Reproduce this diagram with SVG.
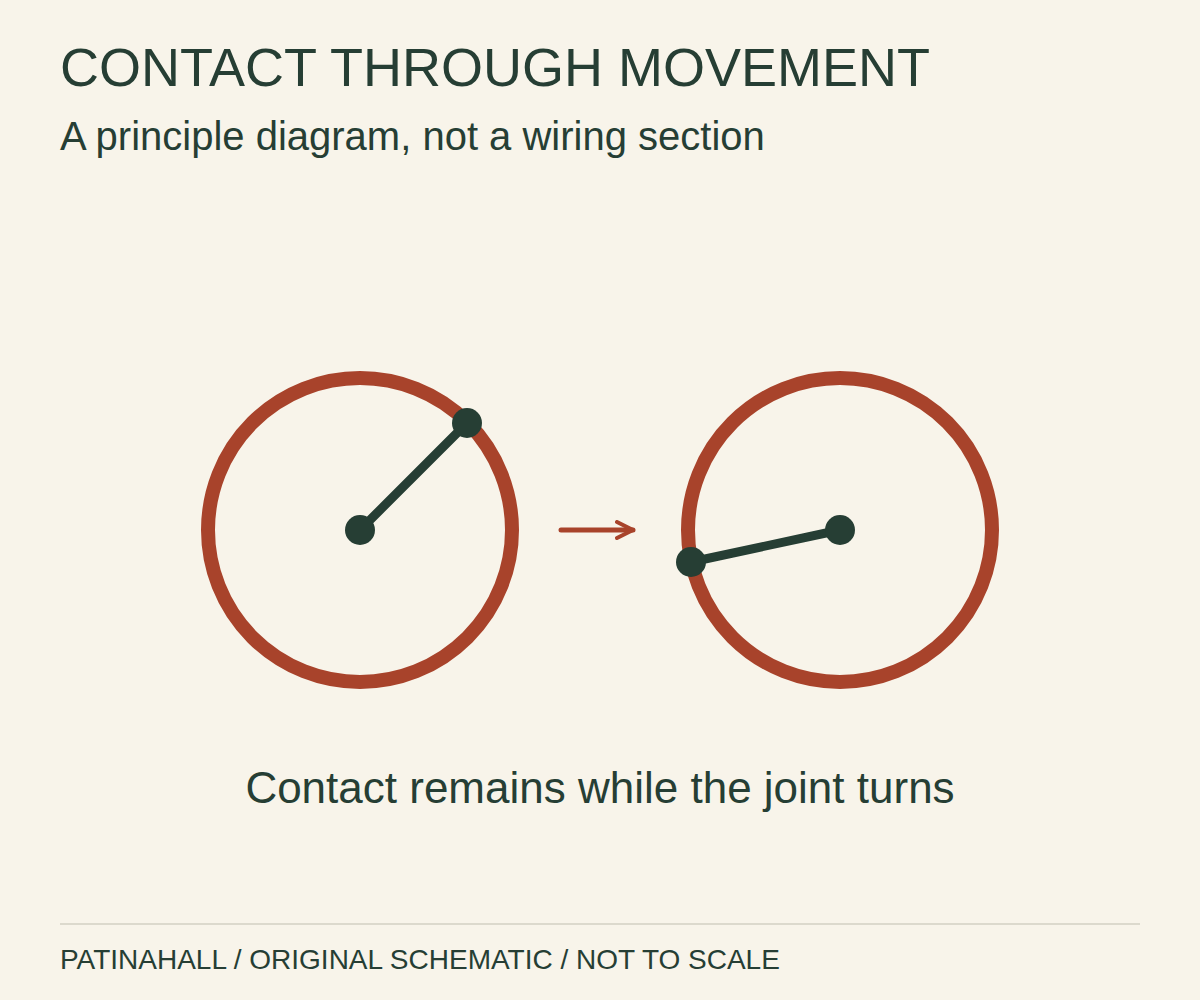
<svg xmlns="http://www.w3.org/2000/svg" width="1200" height="1000" viewBox="0 0 1200 1000">
<defs>
<style>
.t{font-family:"Liberation Sans",Arial,sans-serif;fill:#263e34}
.ring{fill:none;stroke:#a8432b;stroke-width:14}
.arm{stroke:#263e34;stroke-width:9;stroke-linecap:round}
.dot{fill:#263e34}
.conn{stroke:#a8432b;stroke-width:5;stroke-linecap:round;fill:none}
</style>
<marker id="ah" viewBox="0 0 10 10" refX="9" refY="5" markerWidth="4" markerHeight="4" orient="auto" markerUnits="strokeWidth">
<path d="M1,1 L9,5 L1,9" fill="none" stroke="#a8432b" stroke-width="2" stroke-linecap="round" stroke-linejoin="round"/>
</marker>
</defs>
<rect width="1200" height="1000" fill="#f8f4ea"/>
<text class="t" x="60" y="86" font-size="54">CONTACT THROUGH MOVEMENT</text>
<text class="t" x="60" y="150" font-size="40">A principle diagram, not a wiring section</text>
<g id="joint-before">
<circle class="ring" cx="360" cy="530" r="152"/>
<line class="arm" x1="360" y1="530" x2="467" y2="423"/>
<circle class="dot" cx="360" cy="530" r="15"/>
<circle class="dot" cx="467" cy="423" r="15"/>
</g>
<g id="joint-after">
<circle class="ring" cx="840" cy="530" r="152"/>
<line class="arm" x1="840" y1="530" x2="691" y2="562"/>
<circle class="dot" cx="840" cy="530" r="15"/>
<circle class="dot" cx="691" cy="562" r="15"/>
</g>
<g id="connectors">
<line class="conn" x1="561" y1="530" x2="633" y2="530" marker-end="url(#ah)"/>
</g>
<text class="t" x="600" y="803" font-size="44" text-anchor="middle">Contact remains while the joint turns</text>
<line x1="60" y1="924" x2="1140" y2="924" stroke="#dcd9cd" stroke-width="2"/>
<text class="t" x="60" y="969" font-size="28">PATINAHALL / ORIGINAL SCHEMATIC / NOT TO SCALE</text>
</svg>
